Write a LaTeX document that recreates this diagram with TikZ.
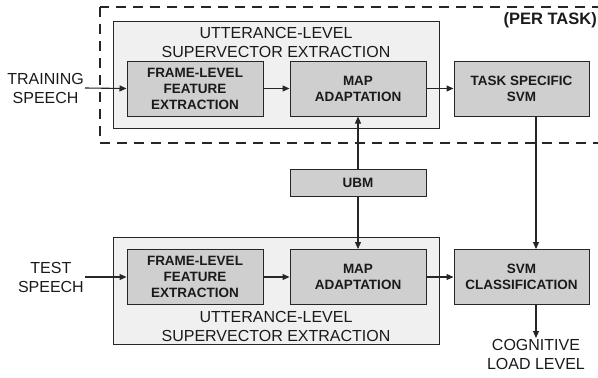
\documentclass[tikz,border=0pt]{standalone}
\usepackage{fontspec}
\setmainfont{Liberation Sans}
\usetikzlibrary{arrows.meta}
\definecolor{inkc}{HTML}{1A1A1A}
\definecolor{linec}{HTML}{262626}
\definecolor{outerfill}{HTML}{F0F0F0}
\definecolor{innerfill}{HTML}{CFCFCF}
\tikzset{
  blockbox/.style={draw=linec, line width=1pt, fill=innerfill, minimum width=136pt, minimum height=55pt,
    inner sep=0pt, align=center, text=inkc, font=\bfseries\fontsize{13.5}{16}\selectfont},
  groupbox/.style={draw=linec, line width=1pt, fill=outerfill, minimum width=326pt, minimum height=107pt, inner sep=0pt},
  plaintext/.style={align=center, text=inkc, inner sep=1pt, font=\fontsize{16}{19}\selectfont},
  flow/.style={draw=linec, line width=1.1pt, -{Triangle[length=7pt,width=6pt]}},
}
\begin{document}
\begin{tikzpicture}[x=1pt, y=-1pt]
  \useasboundingbox (0,0) rectangle (598,378);
  \begin{scope}
    \clip (0,0) rectangle (598,378);
    % per-task region
    \draw[linec, line width=1.2pt, dash pattern=on 10pt off 7pt] (100,7) rectangle (640,143);
  \end{scope}
  \node[text=inkc, anchor=east, font=\bfseries\fontsize{16.5}{19}\selectfont, inner sep=0pt] (pertask) at (597,20) {(PER TASK)};

  % training chain
  \node[groupbox] (utt1) at (276,74.5) {};
  \node[plaintext] (utt1title) at (276,42.5) {UTTERANCE-LEVEL\\SUPERVECTOR EXTRACTION};
  \node[blockbox] (fe1) at (195,88.5) {FRAME-LEVEL\\FEATURE\\EXTRACTION};
  \node[blockbox] (map1) at (358,88.5) {MAP\\ADAPTATION};
  \node[blockbox, minimum width=135pt] (svm1) at (521.5,88.5) {TASK SPECIFIC\\SVM};
  \node[plaintext, anchor=east] (train) at (85,88) {TRAINING\\SPEECH};

  % background model
  \node[blockbox, minimum height=27pt] (ubm) at (358,182.5) {UBM};

  % test chain
  \node[groupbox] (utt2) at (276,291) {};
  \node[plaintext] (utt2title) at (276,326) {UTTERANCE-LEVEL\\SUPERVECTOR EXTRACTION};
  \node[blockbox] (fe2) at (195,277) {FRAME-LEVEL\\FEATURE\\EXTRACTION};
  \node[blockbox] (map2) at (358,277) {MAP\\ADAPTATION};
  \node[blockbox, minimum width=135pt] (svm2) at (521.5,277) {SVM\\CLASSIFICATION};
  \node[plaintext, anchor=east] (test) at (85,277) {TEST\\SPEECH};
  \node[plaintext, anchor=north] (out) at (536,338) {COGNITIVE\\LOAD LEVEL};

  % connectors
  \draw[flow] (train.east) -- (fe1.west);
  \draw[flow] (fe1.east) -- (map1.west);
  \draw[flow] (map1.east) -- (svm1.west);
  \draw[flow] (ubm.north) -- (map1.south);
  \draw[flow] (ubm.south) -- (map2.north);
  \draw[flow] (test.east) -- (fe2.west);
  \draw[flow] (fe2.east) -- (map2.west);
  \draw[flow] (map2.east) -- (svm2.west);
  \draw[flow] (svm1.south -| out.north) -- (svm2.north -| out.north);
  \draw[flow] (svm2.south -| out.north) -- (out.north);
\end{tikzpicture}
\end{document}
